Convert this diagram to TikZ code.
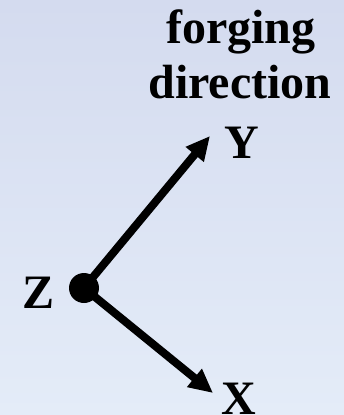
\documentclass[tikz,border=0pt]{standalone}
\usepackage{fontspec}
\setmainfont{Liberation Serif}
\usetikzlibrary{arrows.meta}
\definecolor{bgtop}{RGB}{212,219,239}
\definecolor{bgbot}{RGB}{228,236,248}
\tikzset{
  lbl/.style={font=\bfseries\fontsize{48}{55}\selectfont, inner sep=0pt, anchor=base},
  axis/.style={line width=8pt, -{Triangle[length=24pt,width=22pt]}},
}
\begin{document}
\begin{tikzpicture}[x=1pt,y=-1pt]
\shade[top color=bgtop, bottom color=bgbot] (0,0) rectangle (344,415);
\useasboundingbox (0,0) rectangle (344,415);
\coordinate (ytip) at (210,136);
\coordinate (xtip) at (213,393);
\node[circle, fill=black, minimum size=30pt, inner sep=0pt] (dot) at (84,288) {};
\draw[axis] (dot.center) -- (ytip);
\draw[axis] (dot.center) -- (xtip);
\node[lbl] (f1) at (241,43) {forging};
\node[lbl] (f2) at (240,98) {direction};
\node[lbl] (ylab) at (242,158) {Y};
\node[lbl] (xlab) at (239,414) {X};
\node[lbl] (zlab) at (39,308) {Z};
\end{tikzpicture}
\end{document}
